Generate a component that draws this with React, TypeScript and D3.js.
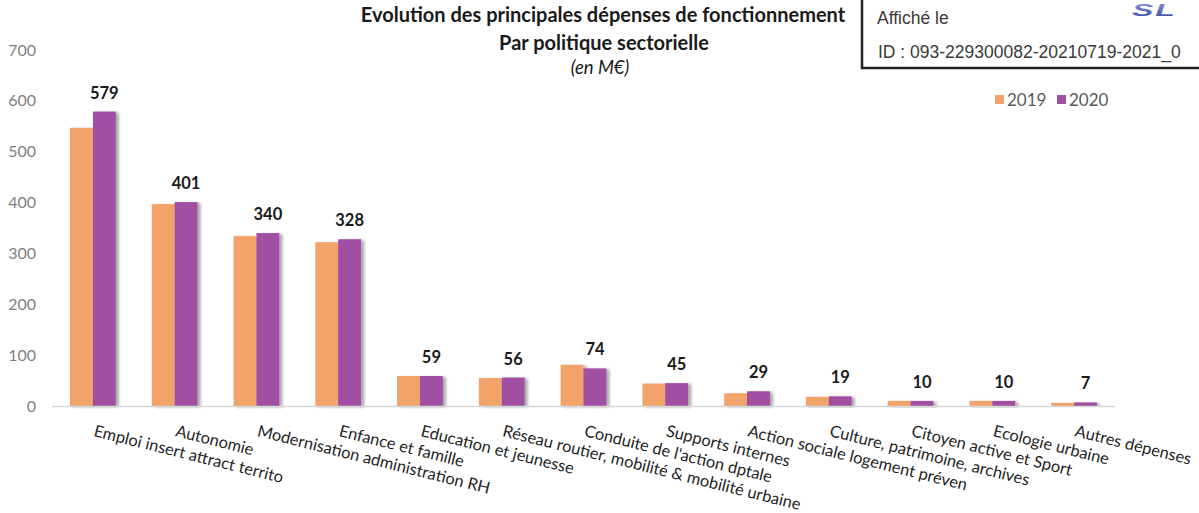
import React, { useEffect, useRef } from "react";
import * as d3 from "d3";

const categories = [
  "Emploi insert attract territo",
  "Autonomie",
  "Modernisation administration RH",
  "Enfance et famille",
  "Education et jeunesse",
  "Réseau routier, mobilité & mobilité urbaine",
  "Conduite de l'action dptale",
  "Supports internes",
  "Action sociale logement préven",
  "Culture, patrimoine, archives",
  "Citoyen active et Sport",
  "Ecologie urbaine",
  "Autres dépenses",
];
const values2019 = [547, 397, 334, 322, 59, 55, 81, 44, 25, 18, 10, 10, 6];
const values2020 = [579, 401, 340, 328, 59, 56, 74, 45, 29, 19, 10, 10, 7];
const years = ["2019", "2020"];
const yTicks = [0, 100, 200, 300, 400, 500, 600, 700];

const colors = ["#F2A36B", "#A04FA3"];
const font = "Lato, 'Open Sans', sans-serif";

const App = () => {
  const ref = useRef<SVGSVGElement>(null);

  useEffect(() => {
    const svg = d3.select(ref.current);
    svg.selectAll("*").remove();

    const width = 1199,
      height = 513;
    const left = 52,
      right = 1115,
      top = 50,
      bottom = 406;

    const x = d3.scaleBand().domain(categories).range([left, right]).paddingInner(0.44).paddingOuter(0.22);
    const xSub = d3.scaleBand().domain(years).range([0, x.bandwidth()]);
    const y = d3.scaleLinear().domain([0, 700]).range([bottom, top]);

    const defs = svg.append("defs");
    const f = defs.append("filter").attr("id", "shadow").attr("x", "-20%").attr("y", "-20%").attr("width", "160%").attr("height", "140%");
    f.append("feDropShadow")
      .attr("dx", 3)
      .attr("dy", 1)
      .attr("stdDeviation", 1.8)
      .attr("flood-color", "#000")
      .attr("flood-opacity", 0.35);
    const grad = defs.append("linearGradient").attr("id", "logo").attr("x1", 0).attr("y1", 0).attr("x2", 0).attr("y2", 1);
    grad.append("stop").attr("offset", "0%").attr("stop-color", "#8a95d6");
    grad.append("stop").attr("offset", "100%").attr("stop-color", "#3a4a9e");

    svg.append("rect").attr("width", width).attr("height", height).attr("fill", "#fff");

    // y axis labels
    svg
      .append("g")
      .selectAll("text")
      .data(yTicks)
      .enter()
      .append("text")
      .attr("x", 36)
      .attr("y", (d) => y(d) + 5.5)
      .attr("text-anchor", "end")
      .attr("font-family", font)
      .attr("font-size", 16)
      .attr("fill", "#808080")
      .text((d) => d);

    // bars
    const series = [values2019, values2020];
    const groups = svg
      .append("g")
      .selectAll("g")
      .data(categories)
      .enter()
      .append("g")
      .attr("transform", (d) => `translate(${x(d)},0)`)
      .attr("filter", "url(#shadow)");

    groups
      .selectAll("rect")
      .data((d, i) => series.map((s, k) => ({ year: years[k], v: s[i], k })))
      .enter()
      .append("rect")
      .attr("x", (d) => xSub(d.year)!)
      .attr("width", xSub.bandwidth())
      .attr("y", (d) => y(d.v))
      .attr("height", (d) => bottom - y(d.v))
      .attr("fill", (d) => colors[d.k]);

    // axis line
    svg
      .append("line")
      .attr("x1", left)
      .attr("x2", right)
      .attr("y1", bottom + 0.5)
      .attr("y2", bottom + 0.5)
      .attr("stroke", "#d6d6d6")
      .attr("stroke-width", 1.5);

    // value labels (2020)
    svg
      .append("g")
      .selectAll("text")
      .data(categories)
      .enter()
      .append("text")
      .attr("x", (d) => x(d)! + xSub("2020")! + xSub.bandwidth() / 2)
      .attr("y", (d, i) => y(values2020[i]) - 13)
      .attr("text-anchor", "middle")
      .attr("font-family", font)
      .attr("font-weight", "bold")
      .attr("font-size", 16.5)
      .attr("fill", "#1a1a1a")
      .text((d, i) => values2020[i]);

    // category labels
    svg
      .append("g")
      .selectAll("text")
      .data(categories)
      .enter()
      .append("text")
      .attr("transform", (d) => `translate(${x(d)! + x.bandwidth() / 2},436) rotate(14)`)
      .attr("font-family", font)
      .attr("font-size", 16.4)
      .attr("fill", "#1f1f1f")
      .text((d) => d);

    // title
    const title = svg.append("g").attr("font-family", font).attr("fill", "#1a1a1a").attr("text-anchor", "middle");
    title
      .append("text")
      .attr("x", 603)
      .attr("y", 22)
      .attr("font-weight", "bold")
      .attr("font-size", 20)
      .text("Evolution des principales dépenses de fonctionnement");
    title
      .append("text")
      .attr("x", 604)
      .attr("y", 50)
      .attr("font-weight", "bold")
      .attr("font-size", 20)
      .text("Par politique sectorielle");
    title
      .append("text")
      .attr("x", 600)
      .attr("y", 74)
      .attr("font-style", "italic")
      .attr("font-size", 18.5)
      .text("(en M€)");

    // legend
    const legend = svg.append("g").attr("font-family", font).attr("font-size", 17).attr("fill", "#595959");
    years.forEach((yr, k) => {
      const lx = 995 + k * 62;
      legend.append("rect").attr("x", lx).attr("y", 95).attr("width", 9).attr("height", 9).attr("fill", colors[k]);
      legend.append("text").attr("x", lx + 12).attr("y", 106).text(yr);
    });

    // stamp box
    svg
      .append("rect")
      .attr("x", 862)
      .attr("y", -5)
      .attr("width", 345)
      .attr("height", 73)
      .attr("fill", "#fff")
      .attr("stroke", "#222")
      .attr("stroke-width", 2.5);
    const stamp = svg.append("g").attr("font-family", "'Liberation Sans', Arial, sans-serif").attr("font-size", 17.5).attr("fill", "#3a3a3a");
    stamp.append("text").attr("x", 877).attr("y", 24).text("Affiché le");
    stamp.append("text").attr("x", 878).attr("y", 58).text("ID : 093-229300082-20210719-2021_0");
    svg
      .append("text")
      .attr("transform", "translate(1132,16) scale(2,1)")
      .attr("font-family", "'Liberation Sans', Arial, sans-serif")
      .attr("font-weight", "bold")
      .attr("font-style", "italic")
      .attr("font-size", 16)
      .attr("letter-spacing", 1)
      .attr("fill", "url(#logo)")
      .text("SL");
  }, []);

  return <svg ref={ref} width={1199} height={513} style={{ position: "absolute", left: 0, top: 0 }} />;
};

export default App;
